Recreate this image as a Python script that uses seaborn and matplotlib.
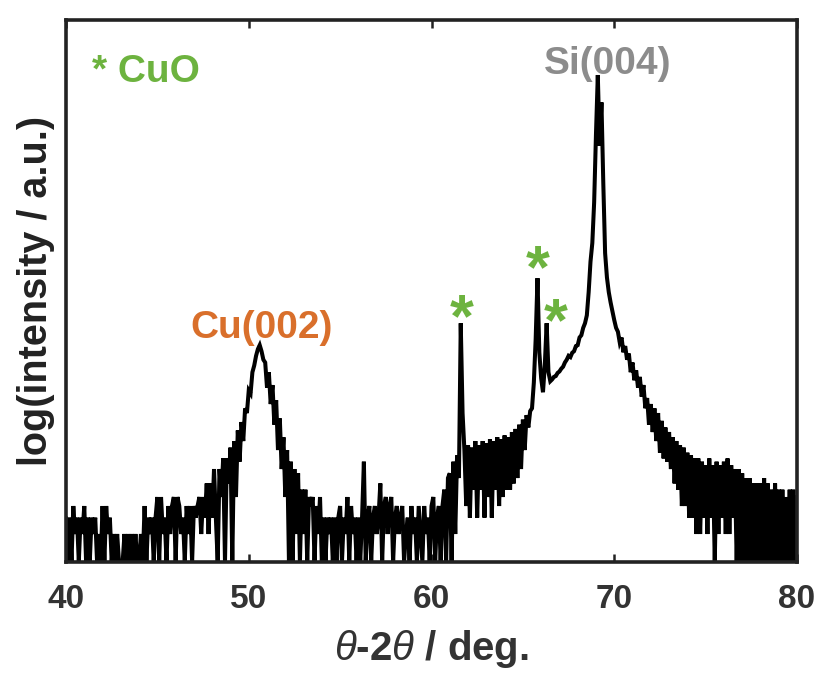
import numpy as np
import pandas as pd
import matplotlib
matplotlib.use("Agg")
import matplotlib.pyplot as plt
from matplotlib.ticker import NullLocator
import seaborn as sns

# ---------------- data ----------------
# theta-2theta scan, 40.0 .. 80.0 deg, step 0.1 deg; intensity in counts (log axis)
scan_start = 40.0
scan_step = 0.1
intensity_counts = [
    3, 1, 3, 1, 4, 2, 3, 1, 3, 2,            # 40
    4, 1, 3, 1, 3, 2, 3, 1, 2, 1,            # 41
    4, 1, 4, 2, 3, 1, 2, 1, 2, 1,            # 42
    1, 1, 2, 1, 2, 1, 2, 1, 2, 1,            # 43
    1, 2, 1, 4, 1, 3, 2, 3, 1, 3,            # 44
    5, 1, 5, 2, 3, 1, 4, 2, 4, 5,            # 45
    1, 5, 4, 2, 3, 1, 4, 2, 4, 1,            # 46
    4, 3, 4, 5, 2, 5, 3, 7, 2, 7,            # 47
    3, 10, 3, 1, 10, 5, 13, 1, 13, 7,        # 48
    17, 1, 20, 5, 26, 12, 32, 20, 45, 40,    # 49
    70, 65, 110, 130, 165, 195, 215, 185, 150, 140,  # 50
    75, 110, 50, 80, 30, 55, 16, 35, 10, 22, # 51
    5, 16, 1, 12, 1, 10, 2, 9, 1, 6,         # 52
    2, 6, 1, 5, 4, 5, 1, 4, 2, 5,            # 53
    1, 3, 1, 3, 2, 3, 1, 3, 1, 3,            # 54
    4, 1, 3, 2, 5, 1, 4, 2, 3, 1,            # 55
    3, 1, 3, 12, 1, 3, 4, 1, 3, 4,           # 56
    2, 3, 7, 1, 4, 5, 2, 4, 5, 1,            # 57
    3, 4, 2, 3, 4, 1, 2, 3, 1, 4,            # 58
    2, 3, 1, 4, 2, 1, 4, 2, 3, 1,            # 59
    4, 5, 1, 3, 4, 1, 4, 6, 1, 8,            # 60
    9, 1, 12, 2, 14, 8, 370, 40, 16, 4,      # 61
    18, 3, 17, 6, 20, 3, 18, 6, 20, 3,       # 62
    19, 5, 21, 3, 20, 6, 22, 4, 21, 5,       # 63
    23, 6, 22, 6, 25, 7, 27, 8, 30, 10,      # 64
    34, 16, 38, 28, 42, 45, 85, 250, 1130, 180,      # 65
    95, 67, 130, 370, 110, 88, 92, 98, 100, 108,     # 66
    112, 120, 126, 140, 150, 165, 160, 178, 185, 210,  # 67
    215, 260, 275, 330, 370, 450, 800, 1700, 2700, 7400,  # 68
    40000, 173000, 30000, 88000, 12000, 2100, 1150, 800, 620, 500,  # 69
    400, 330, 300, 230, 260, 180, 210, 150, 175, 110,  # 70
    140, 90, 115, 75, 98, 60, 80, 45, 58, 30,  # 71
    50, 25, 45, 20, 40, 15, 33, 13, 28, 12,  # 72
    25, 10, 22, 7, 20, 6, 18, 4, 17, 4,      # 73
    15, 3, 14, 3, 13, 2, 13, 2, 12, 3,       # 74
    11, 2, 13, 3, 11, 1, 12, 2, 11, 3,       # 75
    12, 2, 13, 2, 11, 3, 10, 1, 10, 1,       # 76
    9, 1, 8, 1, 8, 1, 7, 1, 7, 1,            # 77
    7, 1, 8, 1, 7, 1, 6, 1, 7, 1,            # 78
    6, 1, 6, 1, 5, 1, 6, 1, 6, 1,            # 79
    5,                                        # 80
]
two_theta = np.round(scan_start + scan_step * np.arange(len(intensity_counts)), 1)

x_ticks = [40, 50, 60, 70, 80]
x_tick_labels = ["40", "50", "60", "70", "80"]
peak_names = ["Cu(002)", "Si(004)"]
legend_text = "* CuO"
x_label = r"$\theta$-2$\theta$ / deg."
y_label = "log(intensity / a.u.)"

green = "#6DB33F"
orange = "#D96F2B"
grey = "#8C8C8C"
dark = "#222222"

# ---------------- plot ----------------
sns.set_style("white")
plt.rcParams["font.family"] = ["Liberation Sans", "DejaVu Sans"]
plt.rcParams["mathtext.fontset"] = "custom"
plt.rcParams["mathtext.it"] = "Liberation Sans:italic"
plt.rcParams["mathtext.rm"] = "Liberation Sans"

fig = plt.figure(figsize=(8.2, 6.73), dpi=100)
ax = fig.add_axes([66 / 820, 1 - 562 / 673, 731 / 820, 542 / 673])

df = pd.DataFrame({"two_theta": two_theta, "intensity": intensity_counts})
sns.lineplot(data=df, x="two_theta", y="intensity", ax=ax, color="black",
             linewidth=2.9, estimator=None, sort=False)
for ln in ax.lines:
    ln.set_solid_joinstyle("miter")

ax.set_yscale("log")
ax.set_xlim(40, 80)
ax.set_ylim(1, 10 ** 5.83)
ax.set_yticks([])
ax.yaxis.set_minor_locator(NullLocator())
ax.set_xticks(x_ticks)
ax.set_xticklabels(x_tick_labels, fontsize=24, fontweight="bold", color="#333333")
ax.tick_params(axis="x", direction="in", top=True, bottom=True, length=6,
               width=1.8, pad=16, color=dark)
for s in ax.spines.values():
    s.set_visible(True)
    s.set_linewidth(2.6)
    s.set_color(dark)

ax.set_xlabel(x_label, fontsize=29, fontweight="bold", color="#333333", labelpad=9)
ax.set_ylabel(y_label, fontsize=28.5, fontweight="bold", color="#222222", labelpad=8)

tk = dict(transform=ax.transAxes, fontweight="bold", fontsize=28)
ax.text(0.268, 0.431, peak_names[0], color=orange, ha="center", va="center", **tk)
ax.text(0.7415, 0.918, peak_names[1], color=grey, ha="center", va="center", **tk)
ax.text(0.035, 0.904, legend_text, color=green, ha="left", va="center", **tk)

star_pos = [(0.541, 0.445), (0.645, 0.536), (0.670, 0.437)]
for (sx, sy) in star_pos:
    ax.text(sx, sy, "*", color=green, ha="center", va="center",
            transform=ax.transAxes, fontsize=44, fontweight="bold")

fig.savefig("out.png", dpi=100)
